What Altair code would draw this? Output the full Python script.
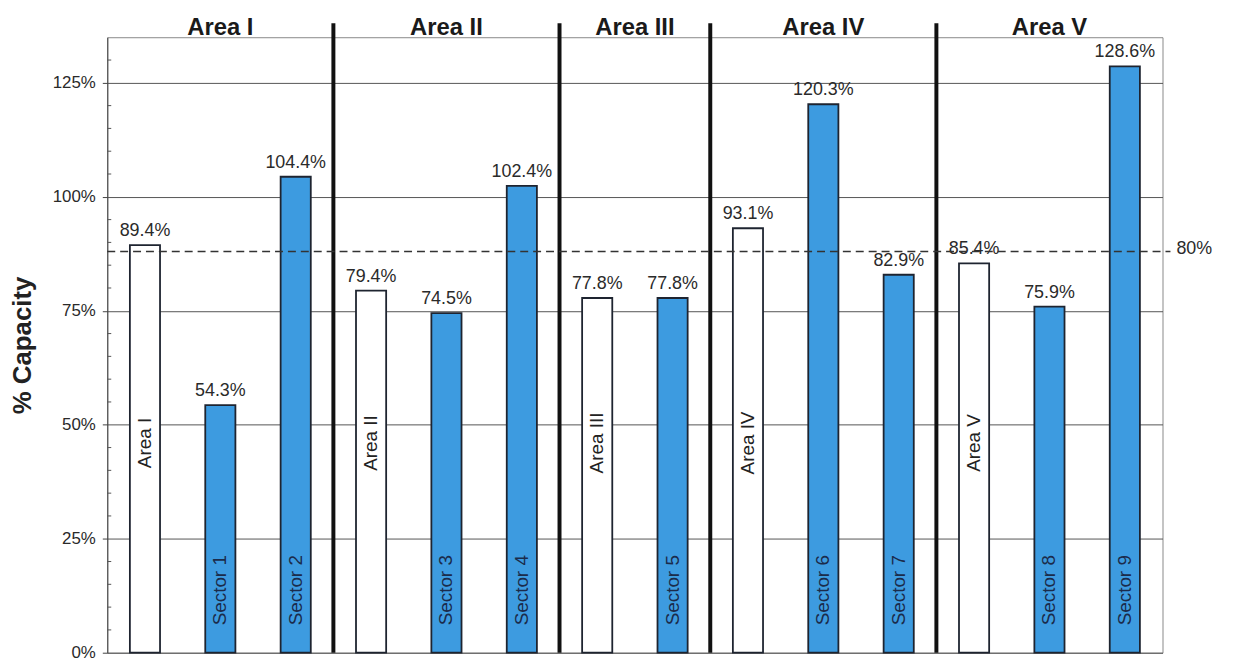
import altair as alt
import pandas as pd

# ---- data ----
categories = ["Area I", "Sector 1", "Sector 2",
              "Area II", "Sector 3", "Sector 4",
              "Area III", "Sector 5",
              "Area IV", "Sector 6", "Sector 7",
              "Area V", "Sector 8", "Sector 9"]
values = [89.4, 54.3, 104.4, 79.4, 74.5, 102.4, 77.8, 77.8,
          93.1, 120.3, 82.9, 85.4, 75.9, 128.6]
kinds = ["area", "sector", "sector", "area", "sector", "sector", "area", "sector",
         "area", "sector", "sector", "area", "sector", "sector"]
value_labels = ["89.4%", "54.3%", "104.4%", "79.4%", "74.5%", "102.4%", "77.8%", "77.8%",
                "93.1%", "120.3%", "82.9%", "85.4%", "75.9%", "128.6%"]

group_names = ["Area I", "Area II", "Area III", "Area IV", "Area V"]
group_centre_cat = ["Sector 1", "Sector 3", "Area III", "Sector 6", "Sector 8"]
group_centre_on_edge = [False, False, True, False, False]
separator_cats = ["Area II", "Area III", "Area IV", "Area V"]

y_ticks = [0, 25, 50, 75, 100, 125]
y_minor = [5, 10, 15, 20, 30, 35, 40, 45, 55, 60, 65, 70, 80, 85, 90, 95,
           105, 110, 115, 120, 130]
threshold_level = 88.0      # where the dashed line sits on the axis
threshold_text = "80%"

FONT = "Liberation Sans"
W, H = 1063, 620

df = pd.DataFrame({"cat": categories, "value": values, "kind": kinds, "label": value_labels})
df_area = df[df.kind == "area"]
df_sector = df[df.kind == "sector"]
df_sep = pd.DataFrame({"cat": separator_cats})
df_titles = pd.DataFrame({"name": group_names, "at": group_centre_cat, "edge": group_centre_on_edge})
df_minor = pd.DataFrame({"v": y_minor})
df_thr = pd.DataFrame({"v": [threshold_level], "t": [threshold_text]})

xscale = alt.Scale(domain=categories, paddingInner=0, paddingOuter=0)
yscale = alt.Scale(domain=[0, 135], nice=False)

def X(field, **kw):
    return alt.X(f"{field}:N", scale=xscale, sort=categories, title=None, axis=None, **kw)

bars = alt.Chart(df).mark_bar(width=alt.RelativeBandSize(0.4), stroke="#1e2430", strokeWidth=1.8).encode(
    x=alt.X("cat:N", scale=xscale, sort=categories, title=None,
            axis=alt.Axis(labels=False, tickBand="extent", tickSize=6, tickColor="#555",
                          domainColor="#777", grid=False)),
    y=alt.Y("value:Q", scale=yscale,
            axis=alt.Axis(values=y_ticks, labelExpr="datum.value + '%'", tickSize=5,
                          tickColor="#444", domainColor="#444", labelPadding=7,
                          labelFontSize=17, labelColor="#2a2a2a", labelFont=FONT,
                          grid=True, gridColor="#555", gridWidth=1,
                          title="% Capacity", titleFont=FONT, titleFontSize=26,
                          titleFontWeight="bold", titleColor="#222",
                          titleX=-85, titleY=H / 2, titleAngle=270,
                          titleAlign="center", titleBaseline="middle")),
    fill=alt.Fill("kind:N", scale=alt.Scale(domain=["area", "sector"], range=["#ffffff", "#3d9be0"]),
                  legend=None),
)

minor_ticks = alt.Chart(df_minor).mark_rule(color="#555", strokeWidth=1).encode(
    x=alt.value(0), x2=alt.value(4), y=alt.Y("v:Q", scale=yscale)
)

value_text = alt.Chart(df).mark_text(font=FONT, fontSize=18, color="#2a2a2a", baseline="alphabetic", dy=-9).encode(
    x=X("cat"), y=alt.Y("value:Q", scale=yscale), text="label:N"
)

area_text = alt.Chart(df_area).mark_text(font=FONT, fontSize=19, color="#222", angle=270,
                                          align="center", baseline="middle").encode(
    x=X("cat"), y=alt.datum(46, scale=yscale), text="cat:N"
)
sector_text = alt.Chart(df_sector).mark_text(font=FONT, fontSize=19, color="#1b2b4b", angle=270,
                                              align="left", baseline="middle").encode(
    x=X("cat"), y=alt.datum(6, scale=yscale), text="cat:N"
)

separators = alt.Chart(df_sep).mark_rule(color="#111", strokeWidth=4).encode(
    x=X("cat", bandPosition=0), y=alt.value(-14), y2=alt.value(H)
)

titles_mid = alt.Chart(df_titles).transform_filter("!datum.edge").mark_text(
    font=FONT, fontSize=24, fontWeight="bold", color="#1a1a1a", baseline="alphabetic").encode(
    x=alt.X("at:N", scale=xscale, sort=categories, title=None, axis=None),
    y=alt.value(-2), text="name:N"
)
titles_edge = alt.Chart(df_titles).transform_filter("datum.edge").mark_text(
    font=FONT, fontSize=24, fontWeight="bold", color="#1a1a1a", baseline="alphabetic").encode(
    x=alt.X("at:N", scale=xscale, sort=categories, title=None, axis=None, bandPosition=1),
    y=alt.value(-2), text="name:N"
)

thr_line = alt.Chart(df_thr).mark_rule(color="#333", strokeWidth=1.6, strokeDash=[8, 5]).encode(
    x=alt.value(0), x2=alt.value(W + 8), y=alt.Y("v:Q", scale=yscale)
)
thr_text = alt.Chart(df_thr).mark_text(font=FONT, fontSize=18, color="#2a2a2a", align="left",
                                        baseline="middle", dy=-2).encode(
    x=alt.value(W + 14), y=alt.Y("v:Q", scale=yscale), text="t:N"
)

chart = alt.layer(
    bars, minor_ticks, value_text, area_text, sector_text, separators,
    titles_mid, titles_edge, thr_line, thr_text
).properties(
    width=W, height=H,
    padding={"left": 100, "top": 27, "right": 70, "bottom": 20},
    autosize=alt.AutoSizeParams(type="none"),
    background="white",
).configure_view(stroke="#888", strokeWidth=1)

chart.save("out.html", embed_options={"renderer": "svg", "actions": False})
